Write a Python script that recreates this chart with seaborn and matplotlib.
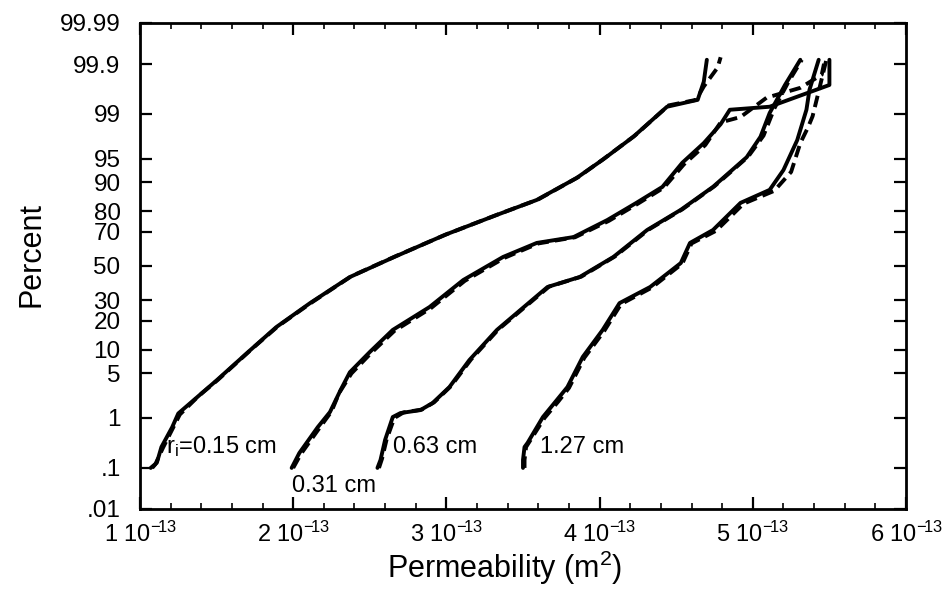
import numpy as np
import matplotlib
matplotlib.use("Agg")
import matplotlib.pyplot as plt
import matplotlib.ticker as mticker
import seaborn as sns
from statistics import NormalDist

# ---------------- data (permeability in units of 1e-13 m^2, cumulative percent) -------------
# r_i = 0.15 cm
x1 = [1.07, 1.11, 1.14, 1.21, 1.25, 1.37, 1.50, 1.72, 1.89, 2.11, 2.37, 2.66, 2.99, 3.33, 3.59,
      3.85, 4.02, 4.22, 4.44, 4.64, 4.68, 4.70]
p1 = [0.1, 0.13, 0.28, 0.68, 1.2, 2.2, 4.0, 9.9, 17.5, 28.5, 43.3, 55.5, 68.3, 78.3, 84.4,
      91.1, 94.8, 97.6, 99.26, 99.45, 99.76, 99.92]
x1d = [1.08, 1.10, 1.15, 1.22, 1.26, 1.38, 1.51, 1.73, 1.90, 2.12, 2.38, 2.67, 3.00, 3.34, 3.60,
       3.86, 4.03, 4.23, 4.45, 4.63, 4.68, 4.77, 4.79]
p1d = [0.1, 0.12, 0.27, 0.7, 1.15, 2.3, 4.1, 10.2, 17.8, 28.8, 43.8, 56.0, 68.6, 78.6, 84.6,
       91.3, 95.0, 97.7, 99.3, 99.45, 99.7, 99.88, 99.93]
# r_i = 0.31 cm
x2 = [1.99, 2.04, 2.16, 2.24, 2.31, 2.37, 2.50, 2.65, 2.89, 3.11, 3.37, 3.59, 3.83, 4.05, 4.24,
      4.41, 4.54, 4.68, 4.79, 4.85, 5.11, 5.50, 5.50]
p2 = [0.1, 0.21, 0.68, 1.27, 2.9, 5.2, 9.4, 16.4, 26.5, 41.5, 55.5, 63.8, 67.1, 75.9, 83.3,
      88.7, 94.3, 97.0, 98.5, 99.16, 99.26, 99.72, 99.92]
x2d = [2.00, 2.05, 2.17, 2.25, 2.30, 2.38, 2.51, 2.66, 2.90, 3.12, 3.38, 3.60, 3.84, 4.06, 4.25,
       4.42, 4.55, 4.69, 4.79, 4.92, 5.09, 5.31, 5.45, 5.47]
p2d = [0.1, 0.2, 0.65, 1.3, 2.6, 5.0, 9.2, 16.0, 26.0, 41.0, 55.0, 63.5, 67.0, 75.5, 83.0,
       88.5, 94.0, 96.8, 98.6, 98.87, 99.5, 99.68, 99.83, 99.92]
# r_i = 0.63 cm
x3 = [2.55, 2.57, 2.60, 2.65, 2.70, 2.83, 2.91, 3.02, 3.15, 3.33, 3.46, 3.66, 3.87, 4.09, 4.31,
      4.53, 4.74, 4.96, 5.05, 5.11, 5.21, 5.31]
p3 = [0.1, 0.15, 0.39, 1.04, 1.22, 1.37, 1.8, 3.2, 7.5, 16.4, 23.6, 37.4, 43.3, 55.5, 70.9,
      80.5, 88.7, 95.2, 97.6, 99.04, 99.72, 99.92]
x3d = [2.56, 2.58, 2.61, 2.66, 2.72, 2.84, 2.92, 3.03, 3.16, 3.34, 3.47, 3.67, 3.88, 4.10, 4.32,
       4.54, 4.75, 4.97, 5.07, 5.14, 5.23, 5.32]
p3d = [0.1, 0.16, 0.4, 1.0, 1.25, 1.4, 1.85, 3.3, 7.6, 16.6, 23.8, 37.6, 43.5, 55.8, 71.1,
       80.7, 88.9, 95.3, 97.7, 99.2, 99.75, 99.92]
# r_i = 1.27 cm
x4 = [3.50, 3.50, 3.51, 3.53, 3.63, 3.72, 3.79, 3.89, 4.02, 4.13, 4.33, 4.53, 4.59, 4.74, 4.92,
      5.11, 5.20, 5.29, 5.35, 5.37, 5.43]
p4 = [0.1, 0.15, 0.28, 0.34, 1.04, 2.0, 3.2, 8.2, 16.4, 28.5, 37.4, 51.8, 63.8, 70.9, 83.3,
      87.8, 92.9, 97.3, 99.16, 99.65, 99.92]
x4d = [3.51, 3.51, 3.52, 3.54, 3.64, 3.73, 3.80, 3.90, 4.03, 4.14, 4.34, 4.54, 4.60, 4.76, 4.94,
       5.14, 5.25, 5.31, 5.36, 5.39, 5.42, 5.48]
p4d = [0.1, 0.15, 0.28, 0.35, 1.0, 1.9, 3.1, 8.0, 16.0, 28.0, 37.0, 51.5, 63.5, 70.5, 83.0,
       87.5, 92.5, 97.0, 98.3, 98.9, 99.5, 99.92]

curve_labels = ["r$_{i}$=0.15 cm", "0.31 cm", "0.63 cm", "1.27 cm"]
label_x = [1.17, 1.99, 2.65, 3.61]
label_p = [0.21, 0.027, 0.21, 0.21]

y_ticks = [0.01, 0.1, 1, 5, 10, 20, 30, 50, 70, 80, 90, 95, 99, 99.9, 99.99]
y_ticklabels = [".01", ".1", "1", "5", "10", "20", "30", "50", "70", "80", "90", "95", "99",
                "99.9", "99.99"]
x_ticks = [1, 2, 3, 4, 5, 6]
x_ticklabels = [f"{k} $10^{{-\\!13}}$" for k in x_ticks]

# ---------------- style ----------------
sns.set_theme(style="ticks")
plt.rcParams["font.family"] = ["Liberation Sans", "DejaVu Sans"]
plt.rcParams["mathtext.default"] = "regular"

_nd = NormalDist()
_fwd = np.vectorize(lambda v: _nd.inv_cdf(v / 100.0), otypes=[float])
_inv = np.vectorize(lambda v: _nd.cdf(v) * 100.0, otypes=[float])


def probit(p):
    p = np.clip(np.asarray(p, dtype=float), 1e-7, 100 - 1e-7)
    return _fwd(p)


def inv_probit(z):
    return _inv(np.asarray(z, dtype=float))


fig = plt.figure(figsize=(9.42, 5.94), dpi=100)
ax = fig.add_axes([0.1486, 0.1431, 0.8132, 0.8182])
ax.set_yscale("function", functions=(probit, inv_probit))

lw = 2.8
dash = (0, (3.0, 1.6))
for xs, ps in [(x1d, p1d), (x2d, p2d), (x3d, p3d), (x4d, p4d)]:
    sns.lineplot(x=xs, y=ps, sort=False, estimator=None, color="black", lw=lw,
                 linestyle=dash, ax=ax)
for xs, ps in [(x1, p1), (x2, p2), (x3, p3), (x4, p4)]:
    sns.lineplot(x=xs, y=ps, sort=False, estimator=None, color="black", lw=lw, ax=ax)

for t, lx, lp in zip(curve_labels, label_x, label_p):
    ax.text(lx, lp, t, fontsize=17, ha="left", va="baseline", color="black")

ax.set_xlim(1, 6)
ax.set_ylim(0.01, 99.99)

ax.yaxis.set_major_locator(mticker.FixedLocator(y_ticks))
ax.yaxis.set_major_formatter(mticker.FixedFormatter(y_ticklabels))
ax.yaxis.set_minor_locator(mticker.NullLocator())
ax.xaxis.set_major_locator(mticker.FixedLocator(x_ticks))
ax.xaxis.set_major_formatter(mticker.FixedFormatter(x_ticklabels))
ax.xaxis.set_minor_locator(mticker.MultipleLocator(0.2))

ax.tick_params(axis="both", which="major", direction="in", length=8.6, width=1.6,
               labelsize=17.5, colors="black", top=True, right=True)
ax.tick_params(axis="x", which="major", pad=9, labelsize=17)
ax.tick_params(axis="y", which="major", pad=14)
ax.tick_params(axis="x", which="minor", direction="in", length=4.3, width=1.4,
               top=True, bottom=True)
for s in ax.spines.values():
    s.set_linewidth(2.0)
    s.set_color("black")
    s.set_visible(True)

ax.set_xlabel("Permeability (m$^2$)", fontsize=22, color="black")
ax.set_ylabel("Percent", fontsize=22, color="black")
ax.xaxis.set_label_coords(0.4765, -0.082)
ax.yaxis.set_label_coords(-0.122, 0.523)

fig.savefig("out.png", dpi=100, facecolor="white")
